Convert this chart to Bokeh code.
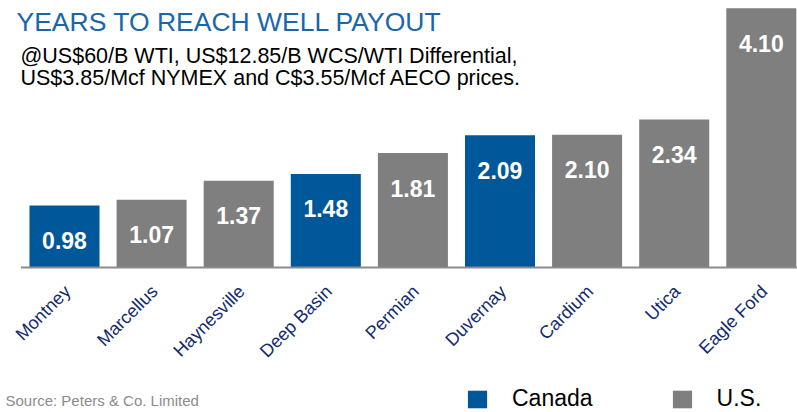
from bokeh.plotting import figure
from bokeh.models import Range1d, Label, ColumnDataSource
from bokeh.core.properties import value
from bokeh.embed import file_html
from bokeh.resources import INLINE

plays = ["Montney", "Marcellus", "Haynesville", "Deep Basin", "Permian",
         "Duvernay", "Cardium", "Utica", "Eagle Ford"]
years = [0.98, 1.07, 1.37, 1.48, 1.81, 2.09, 2.10, 2.34, 4.10]
group = ["Canada", "U.S.", "U.S.", "Canada", "U.S.", "Canada", "U.S.", "U.S.", "U.S."]
group_colors = {"Canada": "#00579a", "U.S.": "#7f7f7f"}

title_text = "YEARS TO REACH WELL PAYOUT"
subtitle_lines = ["@US$60/B WTI, US$12.85/B WCS/WTI Differential,",
                  "US$3.85/Mcf NYMEX and C$3.55/Mcf AECO prices."]
source_text = "Source: Peters & Co. Limited"

FONT = "Liberation Sans"
W, H = 797, 412

src = ColumnDataSource(dict(
    x=list(range(len(plays))),
    play=plays,
    years=years,
    lab=[f"{v:.2f}" for v in years],
    group=group,
    color=[group_colors[g] for g in group],
))

p = figure(width=W, height=H, x_range=Range1d(-0.7348, 8.4156),
           y_range=Range1d(-2.2925, 4.2213), output_backend="svg",
           toolbar_location=None, min_border=0, x_axis_type=None,
           y_axis_type=None, outline_line_color=None)
p.grid.visible = False
p.background_fill_color = "white"
p.border_fill_color = "white"

p.vbar(x="x", top="years", bottom=0, width=0.804, fill_color="color",
       line_color=None, source=src, legend_field="group")

# category baseline (axis line spanning the category bands)
n = len(plays)
p.segment(x0=[-0.5], x1=[n - 0.5], y0=[0], y1=[0], line_color="#8c8c8c",
          line_width=2)

# value labels inside bars
p.text(x="x", y="years", text="lab", source=src, text_color="white",
       text_font=value(FONT), text_font_style="bold", text_font_size="23px",
       text_align="center", text_baseline="alphabetic", y_offset=35)

# category labels (rotated 45 degrees)
p.text(x="x", y=0, text="play", source=src, text_color="#122a6e",
       text_font=value(FONT), text_font_size="18px",
       text_align="right", text_baseline="alphabetic", angle=0.785398,
       x_offset=3, y_offset=21)

# title & subtitle
p.add_layout(Label(x=16, y=H - 21, x_units="screen", y_units="screen",
                   text=title_text, text_font=FONT, text_font_size="26.5px",
                   text_color="#1a66ab", text_baseline="alphabetic"))
p.add_layout(Label(x=20, y=H - 55.5, x_units="screen", y_units="screen",
                   text=subtitle_lines[0], text_font=FONT, text_font_size="21.5px",
                   text_color="black", text_baseline="alphabetic"))
p.add_layout(Label(x=20, y=H - 77, x_units="screen", y_units="screen",
                   text=subtitle_lines[1], text_font=FONT, text_font_size="21.5px",
                   text_color="black", text_baseline="alphabetic"))
p.add_layout(Label(x=5, y=12, x_units="screen", y_units="screen",
                   text=source_text, text_font=FONT, text_font_size="15px",
                   text_color="#8c8c8c", text_baseline="alphabetic"))

lg = p.legend[0]
lg.orientation = "horizontal"
lg.location = (465, 0)
lg.glyph_width = 24
lg.glyph_height = 22
lg.label_height = 22
lg.label_standoff = 23
lg.spacing = 77
lg.padding = 0
lg.margin = 0
lg.border_line_color = None
lg.background_fill_alpha = 0
lg.label_text_font = FONT
lg.label_text_font_size = "23px"
lg.label_text_color = "black"

open("out.html", "w").write(file_html(p, INLINE))
